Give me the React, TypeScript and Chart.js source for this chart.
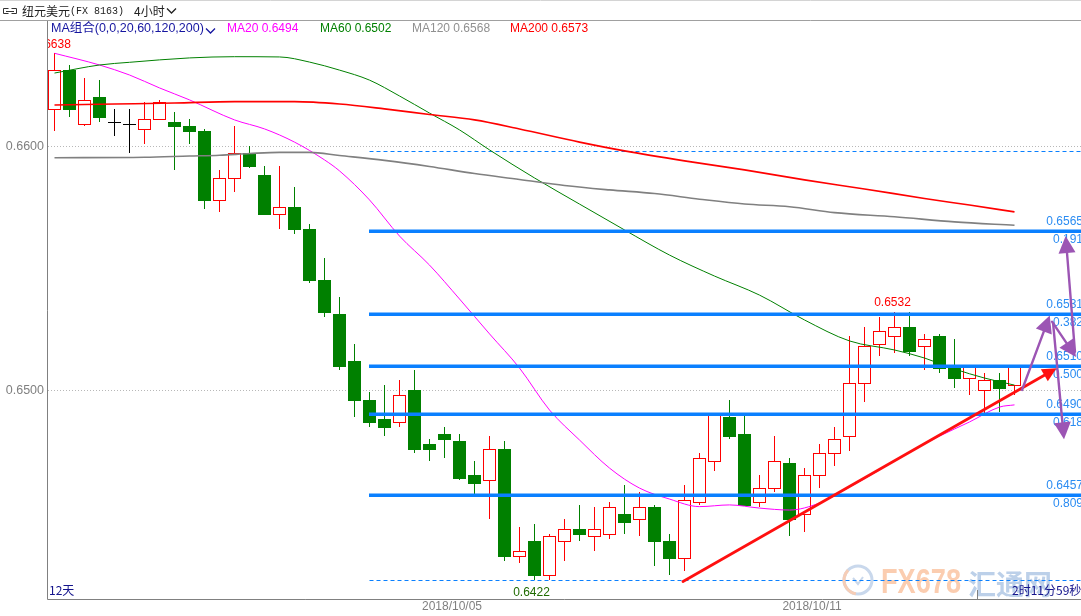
import React, { useEffect, useRef } from "react";
import { Chart, registerables } from "chart.js";

Chart.register(...registerables);

// ---------- candle data (4h bars, NZD/USD) ----------
const opens = [
  0.6615, 0.6631, 0.6609, 0.662, 0.661, 0.6609, 0.6607, 0.6611, 0.661, 0.6608,
  0.6606, 0.6578, 0.6587, 0.6597, 0.6588, 0.6572, 0.6575, 0.6566, 0.6545, 0.6531,
  0.6512, 0.6496, 0.6488, 0.6487, 0.65, 0.6478, 0.6482, 0.6479, 0.6465, 0.6463,
  0.6476, 0.6432, 0.6438, 0.6424, 0.6438, 0.6443, 0.644, 0.6441, 0.6449, 0.6447,
  0.6452, 0.6438, 0.6431, 0.6454, 0.6471, 0.6489, 0.6482, 0.6454, 0.646, 0.647,
  0.6449, 0.6465, 0.6474, 0.6481, 0.6503, 0.6519, 0.6522, 0.6526, 0.6518, 0.6522,
  0.6509, 0.6505, 0.65, 0.6504, 0.6502,
];
const highs = [
  0.6638, 0.6633, 0.6628, 0.6627, 0.6615, 0.6615, 0.6618, 0.6619, 0.6614, 0.6611,
  0.6607, 0.659, 0.6608, 0.66, 0.6592, 0.6592, 0.6583, 0.6568, 0.6554, 0.6538,
  0.6519, 0.6499, 0.6502, 0.6504, 0.6508, 0.648, 0.6485, 0.6482, 0.6471, 0.6481,
  0.6479, 0.6444, 0.6445, 0.6441, 0.6447, 0.6453, 0.6452, 0.6454, 0.6461, 0.6458,
  0.6453, 0.6441, 0.6461, 0.6474, 0.649, 0.6496, 0.649, 0.6465, 0.6481, 0.6472,
  0.6468, 0.6478, 0.6485, 0.6522, 0.6526, 0.653, 0.6532, 0.6532, 0.6523, 0.6523,
  0.6521, 0.651, 0.6507, 0.6507, 0.651,
];
const lows = [
  0.6606, 0.6612, 0.6608, 0.661, 0.6604, 0.6597, 0.6601, 0.6611, 0.659, 0.6601,
  0.6574, 0.6573, 0.6581, 0.6591, 0.6572, 0.6566, 0.6564, 0.6544, 0.653, 0.6508,
  0.6489, 0.6485, 0.6481, 0.6485, 0.6474, 0.6471, 0.6472, 0.6463, 0.6457, 0.6447,
  0.643, 0.6429, 0.6422, 0.6422, 0.643, 0.6438, 0.6434, 0.6439, 0.6441, 0.644,
  0.6428, 0.6424, 0.6426, 0.6453, 0.6467, 0.648, 0.6453, 0.6452, 0.6458, 0.644,
  0.6442, 0.646, 0.6469, 0.6475, 0.6495, 0.6514, 0.6515, 0.6514, 0.6508, 0.6507,
  0.6501, 0.6498, 0.649, 0.6491, 0.6498,
];
const closes = [
  0.6631, 0.6615, 0.6619, 0.6612, 0.661, 0.6609, 0.6611, 0.6618, 0.6608, 0.6606,
  0.6578, 0.6587, 0.6597, 0.6592, 0.6572, 0.6575, 0.6566, 0.6545, 0.6532, 0.651,
  0.6496, 0.6487, 0.6485, 0.6498, 0.6476, 0.6476, 0.648, 0.6464, 0.6462, 0.6476,
  0.6432, 0.6434, 0.6424, 0.644, 0.6443, 0.6441, 0.6443, 0.6452, 0.6446, 0.6452,
  0.6438, 0.6431, 0.6455, 0.6472, 0.649, 0.6481, 0.6453, 0.646, 0.6471, 0.6447,
  0.6465, 0.6474, 0.648, 0.6503, 0.6518, 0.6524, 0.6526, 0.6516, 0.6521, 0.6509,
  0.6505, 0.651, 0.6504, 0.6501, 0.651,
];

// ---------- moving averages (at candle indices) ----------
const ma20Idx = [0, 3, 5, 7, 9, 12, 14, 16, 18, 19, 21, 23, 25, 27, 29, 31, 33, 35, 37, 39, 41, 43, 45, 47, 49, 51, 53, 55, 57, 59, 61, 63, 64];
const ma20Val = [
  0.6638, 0.66332, 0.66291, 0.66238, 0.66189, 0.66107, 0.6607, 0.66016, 0.65943, 0.65898,
  0.65779, 0.65631, 0.65512, 0.65373, 0.6523, 0.6509, 0.64918, 0.64795, 0.6468, 0.64598,
  0.64553, 0.64522, 0.64529, 0.64516, 0.64508, 0.64537, 0.64602, 0.64672, 0.64746, 0.64811,
  0.64869, 0.6493, 0.64939,
];
const ma60Idx = [0, 3, 5, 9, 12, 15, 17, 19, 21, 23, 25, 27, 29, 32, 35, 38, 41, 44, 47, 50, 53, 56, 58, 60, 62, 64];
const ma60Val = [
  0.66299, 0.66332, 0.66343, 0.66361, 0.66366, 0.66365, 0.66344, 0.66311, 0.6627, 0.66205,
  0.66135, 0.66066, 0.65984, 0.65869, 0.65762, 0.65656, 0.65553, 0.65467, 0.65389, 0.65287,
  0.65201, 0.65164, 0.65131, 0.65086, 0.65049, 0.6502,
];
const ma120Idx = [0, 6, 9, 11, 13, 15, 17, 19, 22, 25, 28, 31, 34, 37, 40, 43, 46, 49, 52, 56, 60, 64];
const ma120Val = [
  0.65952, 0.65954, 0.65959, 0.65962, 0.65969, 0.65974, 0.65974, 0.65961, 0.65941, 0.65916,
  0.65887, 0.65863, 0.65838, 0.6582, 0.65805, 0.65782, 0.65762, 0.65751, 0.65727, 0.6571,
  0.65689, 0.65675,
];
const ma200Idx = [0, 4, 8, 12, 16, 19, 22, 25, 28, 31, 35, 38, 42, 46, 50, 54, 58, 61, 64];
const ma200Val = [
  0.66168, 0.66172, 0.66176, 0.66182, 0.66182, 0.66172, 0.66152, 0.66129, 0.66107, 0.6607,
  0.66016, 0.6598, 0.65939, 0.65902, 0.65861, 0.65824, 0.65785, 0.65758, 0.6573,
];

// ---------- texts ----------
const titleName = "纽元美元";
const titleCode = "(FX 8163)";
const titlePeriod = "4小时";
const maGroupLabel = "MA组合(0,0,20,60,120,200)";
const maLegendNames = ["MA20", "MA60", "MA120", "MA200"];
const maLegendValues = ["0.6494", "0.6502", "0.6568", "0.6573"];
const yTickValues = [0.66, 0.65];
const yTickLabels = ["0.6600", "0.6500"];
const dateTickIdx = [26.5, 50.5];
const dateTickLabels = ["2018/10/05", "2018/10/11"];
const spanLabel = "12天";
const countdownLabel = "2时11分59秒";

// ---------- fibonacci retracement ----------
const fibStartIdx = 21;
const fibZero = 0.6598;
const fibOne = 0.6422;
const fibLevels = [0.6565, 0.6531, 0.651, 0.649, 0.6457];
const fibLevelLabels = ["0.6565", "0.6531", "0.6510", "0.6490", "0.6457"];
const fibRatioLabels = ["0.191", "0.382", "0.500", "0.618", "0.809"];

// ---------- drawn annotations (data units: candle index, price) ----------
const trendFrom = [41.9, 0.64215];
const trendTo = [66.8, 0.65089];
const arrowFromIdx = [64.5, 66.5, 68.03, 66.57];
const arrowFromVal = [0.65, 0.6528, 0.65157, 0.65275];
const arrowToIdx = [66.35, 68.1, 67.41, 67.3];
const arrowToVal = [0.65305, 0.65135, 0.65631, 0.64798];

// view window
const X_MIN = -0.5;
const X_MAX = 68.433;
const Y_MIN = 0.641434;
const Y_MAX = 0.665082;

const FONT = "12px 'Liberation Sans', Arial, 'Noto Sans CJK SC', sans-serif";
const LEG_FONT = "12.5px 'Liberation Sans', Arial, 'Noto Sans CJK SC', sans-serif";
const CJK = "12px 'Noto Sans CJK SC', 'Liberation Sans', sans-serif";
const UP = "#ff0000";
const DOWN = "#008000";
const FIB = "#0a80ff";
const FIB_TXT = "#2b8cf2";
const PURPLE = "#9c55b4";

function text(ctx: CanvasRenderingContext2D, s: string, x: number, y: number, color: string, font: string, align: CanvasTextAlign = "left", base: CanvasTextBaseline = "middle") {
  ctx.font = font;
  ctx.fillStyle = color;
  ctx.textAlign = align;
  ctx.textBaseline = base;
  ctx.fillText(s, x, y);
}

function chevron(ctx: CanvasRenderingContext2D, x: number, y: number, color: string) {
  ctx.save();
  ctx.strokeStyle = color;
  ctx.lineWidth = 1.3;
  ctx.beginPath();
  ctx.moveTo(x, y - 2.5);
  ctx.lineTo(x + 4.5, y + 2);
  ctx.lineTo(x + 9, y - 2.5);
  ctx.stroke();
  ctx.restore();
}

function arrow(ctx: CanvasRenderingContext2D, x1: number, y1: number, x2: number, y2: number, color: string, width: number, headLen: number, headHalf: number) {
  const dx = x2 - x1;
  const dy = y2 - y1;
  const len = Math.hypot(dx, dy);
  const ux = dx / len;
  const uy = dy / len;
  const bx = x2 - ux * headLen;
  const by = y2 - uy * headLen;
  ctx.save();
  ctx.strokeStyle = color;
  ctx.fillStyle = color;
  ctx.lineWidth = width;
  ctx.lineCap = "round";
  ctx.beginPath();
  ctx.moveTo(x1, y1);
  ctx.lineTo(bx + ux * 2, by + uy * 2);
  ctx.stroke();
  ctx.beginPath();
  ctx.moveTo(x2, y2);
  ctx.lineTo(bx - uy * headHalf, by + ux * headHalf);
  ctx.lineTo(bx + uy * headHalf, by - ux * headHalf);
  ctx.closePath();
  ctx.fill();
  ctx.restore();
}

const fxPlugin = {
  id: "fxDraw",
  beforeDatasetsDraw(chart: any) {
    const { ctx, chartArea: ca } = chart;
    const xs = chart.scales.x;
    const ys = chart.scales.y;
    const W = chart.width;
    ctx.save();

    // header
    ctx.strokeStyle = "#d4d4d4";
    ctx.lineWidth = 1;
    ctx.beginPath();
    ctx.moveTo(0, 0.5);
    ctx.lineTo(W, 0.5);
    ctx.stroke();
    ctx.strokeStyle = "#a0a0a0";
    ctx.beginPath();
    ctx.moveTo(0, ca.top - 1.5);
    ctx.lineTo(W, ca.top - 1.5);
    ctx.stroke();
    // link icon
    ctx.strokeStyle = "#333";
    ctx.lineWidth = 1;
    ctx.beginPath();
    ctx.moveTo(8.5, 8.5); ctx.lineTo(3.5, 8.5); ctx.lineTo(3.5, 13.5); ctx.lineTo(8.5, 13.5);
    ctx.moveTo(11.5, 8.5); ctx.lineTo(16.5, 8.5); ctx.lineTo(16.5, 13.5); ctx.lineTo(11.5, 13.5);
    ctx.moveTo(6, 11.5); ctx.lineTo(14, 11.5);
    ctx.stroke();
    text(ctx, titleName, 22, 11, "#222", CJK);
    text(ctx, titleCode, 70, 11, "#222", "10px 'Liberation Mono', 'DejaVu Sans Mono', monospace");
    text(ctx, titlePeriod, 134, 11, "#222", CJK);
    chevron(ctx, 167, 11, "#222");

    // MA legend
    text(ctx, maGroupLabel, 51, 29, "#1616a0", LEG_FONT);
    chevron(ctx, 206, 31, "#1616a0");
    const legColors = ["#ff00ff", "#008000", "#909090", "#ff0000"];
    const legX = [227, 320, 412, 510];
    for (let k = 0; k < 4; k++) {
      text(ctx, maLegendNames[k] + " " + maLegendValues[k], legX[k], 29, legColors[k], FONT);
    }

    // axes
    ctx.strokeStyle = "#808080";
    ctx.lineWidth = 1;
    ctx.beginPath();
    ctx.moveTo(ca.left + 0.5, ca.top - 1);
    ctx.lineTo(ca.left + 0.5, ca.bottom + 0.5);
    ctx.lineTo(ca.right, ca.bottom + 0.5);
    ctx.stroke();

    // y grid + labels
    ctx.strokeStyle = "#b8b8b8";
    ctx.setLineDash([1, 2]);
    yTickValues.forEach((v, k) => {
      const py = Math.round(ys.getPixelForValue(v)) + 0.5;
      ctx.beginPath();
      ctx.moveTo(ca.left + 1, py);
      ctx.lineTo(ca.right, py);
      ctx.stroke();
      text(ctx, yTickLabels[k], ca.left - 3, py, "#808080", "12.5px 'Liberation Sans', Arial, sans-serif", "right");
    });
    ctx.setLineDash([]);

    // date labels
    dateTickIdx.forEach((d, k) => {
      text(ctx, dateTickLabels[k], xs.getPixelForValue(d), ca.bottom + 8, "#808080", FONT, "center");
    });

    // watermark
    ctx.save();
    const wx = ca.right - 223;
    const wy = ca.bottom - 19;
    ctx.lineWidth = 3;
    ctx.strokeStyle = "#c9d8ec";
    ctx.beginPath();
    ctx.arc(wx, wy, 14, 0, Math.PI * 2);
    ctx.stroke();
    ctx.strokeStyle = "#f6cdb6";
    ctx.beginPath();
    ctx.arc(wx, wy, 14, Math.PI * 0.55, Math.PI * 1.25);
    ctx.stroke();
    ctx.lineWidth = 2;
    ctx.strokeStyle = "#c9d8ec";
    ctx.beginPath();
    ctx.moveTo(wx - 5, wy - 2); ctx.lineTo(wx, wy + 4); ctx.lineTo(wx + 5, wy - 3);
    ctx.stroke();
    ctx.font = "bold 35px 'Liberation Sans', Arial, sans-serif";
    ctx.fillStyle = "#fbcdb0";
    ctx.textAlign = "left";
    ctx.textBaseline = "alphabetic";
    ctx.fillText("FX678", wx + 23, ca.bottom - 6, 80);
    ctx.font = "bold 28px 'Noto Sans CJK SC', sans-serif";
    ctx.fillStyle = "#bcd0e9";
    ctx.fillText("汇通网", wx + 110, ca.bottom - 4, 84);
    ctx.restore();

    // fib dashed 0 and 1 lines
    ctx.strokeStyle = FIB;
    ctx.lineWidth = 1;
    ctx.setLineDash([4, 3]);
    const fx0 = Math.round(xs.getPixelForValue(fibStartIdx)) - 0.5;
    [fibZero, fibOne].forEach((v) => {
      const py = Math.round(ys.getPixelForValue(v)) + 0.5;
      ctx.beginPath();
      ctx.moveTo(fx0, py);
      ctx.lineTo(ca.right, py);
      ctx.stroke();
    });
    ctx.setLineDash([]);

    // candles
    ctx.save();
    ctx.beginPath();
    ctx.rect(ca.left + 1, ca.top, ca.right - ca.left, ca.bottom - ca.top);
    ctx.clip();
    for (let i = 0; i < opens.length; i++) {
      const o = opens[i], h = highs[i], l = lows[i], c = closes[i];
      const cx = Math.floor(xs.getPixelForValue(i)) + 0.5;
      const yh = Math.round(ys.getPixelForValue(h));
      const yl = Math.round(ys.getPixelForValue(l));
      const yTop = Math.round(ys.getPixelForValue(Math.max(o, c)));
      const yBot = Math.round(ys.getPixelForValue(Math.min(o, c)));
      const left = cx - 6.5;
      ctx.lineWidth = 1;
      if (o === c) {
        ctx.strokeStyle = "#000";
        ctx.beginPath();
        ctx.moveTo(cx, yh);
        ctx.lineTo(cx, yl);
        ctx.moveTo(left, yTop + 0.5);
        ctx.lineTo(left + 13, yTop + 0.5);
        ctx.stroke();
      } else if (c > o) {
        ctx.strokeStyle = UP;
        ctx.beginPath();
        ctx.moveTo(cx, yh);
        ctx.lineTo(cx, yTop);
        ctx.moveTo(cx, yBot);
        ctx.lineTo(cx, yl);
        ctx.stroke();
        ctx.fillStyle = "#fff";
        ctx.fillRect(left + 0.5, yTop + 0.5, 12, yBot - yTop);
        ctx.strokeRect(left + 0.5, yTop + 0.5, 12, Math.max(1, yBot - yTop));
      } else {
        ctx.strokeStyle = DOWN;
        ctx.beginPath();
        ctx.moveTo(cx, yh);
        ctx.lineTo(cx, yl);
        ctx.stroke();
        ctx.fillStyle = DOWN;
        ctx.fillRect(left, yTop, 13, Math.max(2, yBot - yTop + 1));
      }
    }
    ctx.restore();
    ctx.restore();
  },
  afterDatasetsDraw(chart: any) {
    const { ctx, chartArea: ca } = chart;
    const xs = chart.scales.x;
    const ys = chart.scales.y;
    ctx.save();

    // fib solid levels + labels
    const fx0 = Math.round(xs.getPixelForValue(fibStartIdx)) - 1;
    fibLevels.forEach((v, k) => {
      const py = Math.round(ys.getPixelForValue(v));
      ctx.fillStyle = FIB;
      ctx.fillRect(fx0, py - 1.5, ca.right - fx0, 3.5);
      text(ctx, fibLevelLabels[k], ca.right + 2, py - 3, FIB_TXT, FONT, "right", "bottom");
      text(ctx, fibRatioLabels[k], ca.right + 2, py + 3, FIB_TXT, FONT, "right", "top");
    });

    // trend line
    arrow(
      ctx,
      xs.getPixelForValue(trendFrom[0]), ys.getPixelForValue(trendFrom[1]),
      xs.getPixelForValue(trendTo[0]), ys.getPixelForValue(trendTo[1]),
      "#ff1010", 2.8, 14, 7
    );

    // purple arrows
    for (let k = 0; k < arrowFromIdx.length; k++) {
      arrow(
        ctx,
        xs.getPixelForValue(arrowFromIdx[k]), ys.getPixelForValue(arrowFromVal[k]),
        xs.getPixelForValue(arrowToIdx[k]), ys.getPixelForValue(arrowToVal[k]),
        PURPLE, 2.4, 17, 8.5
      );
    }

    // high / low labels
    let hiI = 0, loI = 0;
    for (let i = 0; i < highs.length; i++) {
      if (highs[i] > highs[hiI]) hiI = i;
      if (lows[i] < lows[loI]) loI = i;
    }
    let hi2 = loI;
    for (let i = loI; i < highs.length; i++) if (highs[i] > highs[hi2]) hi2 = i;

    ctx.save();
    ctx.beginPath();
    ctx.rect(ca.left + 1, 0, ca.right, chart.height);
    ctx.clip();
    text(ctx, highs[hiI].toFixed(4), xs.getPixelForValue(hiI) - 2, ys.getPixelForValue(highs[hiI]) - 3, "#ff0000", FONT, "center", "bottom");
    ctx.restore();
    text(ctx, highs[hi2].toFixed(4), xs.getPixelForValue(hi2) - 2, ys.getPixelForValue(highs[hi2]) - 3, "#ff0000", FONT, "center", "bottom");
    text(ctx, lows[loI].toFixed(4), xs.getPixelForValue(loI) - 3, ys.getPixelForValue(lows[loI]) + 6, "#1f6b00", FONT, "center", "top");

    // corner texts
    text(ctx, spanLabel, ca.left + 2, ca.bottom - 9, "#14148c", CJK);
    text(ctx, countdownLabel, ca.right - 69, ca.bottom - 9, "#14148c", CJK);
    ctx.strokeStyle = "#808080";
    ctx.lineWidth = 1;
    ctx.beginPath();
    ctx.moveTo(Math.round(xs.getPixelForValue(61.5)) + 0.5, ca.bottom - 9);
    ctx.lineTo(Math.round(xs.getPixelForValue(61.5)) + 0.5, ca.bottom);
    ctx.stroke();

    ctx.restore();
  },
};

function pts(idx: number[], val: number[]) {
  return idx.map((x, k) => ({ x, y: val[k] }));
}

export default function App() {
  const ref = useRef<HTMLCanvasElement>(null);
  useEffect(() => {
    const canvas = ref.current;
    if (!canvas) return;
    const mk = (label: string, idx: number[], val: number[], color: string, w: number) => ({
      label,
      data: pts(idx, val),
      borderColor: color,
      backgroundColor: color,
      borderWidth: w,
      pointRadius: 0,
      fill: false,
      cubicInterpolationMode: "monotone" as const,
    });
    const chart = new Chart(canvas, {
      type: "line",
      data: {
        datasets: [
          mk("MA200", ma200Idx, ma200Val, "#ff0000", 1.6),
          mk("MA120", ma120Idx, ma120Val, "#808080", 1.6),
          mk("MA60", ma60Idx, ma60Val, "#008000", 1),
          mk("MA20", ma20Idx, ma20Val, "#ff00ff", 1),
        ],
      },
      options: {
        animation: false,
        responsive: false,
        devicePixelRatio: 1,
        events: [],
        layout: { padding: { left: 47, top: 22, right: 0, bottom: 17 } },
        plugins: { legend: { display: false }, tooltip: { enabled: false } },
        scales: {
          x: { type: "linear", min: X_MIN, max: X_MAX, display: false },
          y: { type: "linear", min: Y_MIN, max: Y_MAX, display: false },
        },
      },
      plugins: [fxPlugin],
    });
    return () => chart.destroy();
  }, []);
  return (
    <div style={{ position: "fixed", left: 0, top: 0, width: 1081, height: 616, background: "#fff" }}>
      <canvas ref={ref} width={1081} height={616} style={{ display: "block", width: 1081, height: 616 }} />
    </div>
  );
}
